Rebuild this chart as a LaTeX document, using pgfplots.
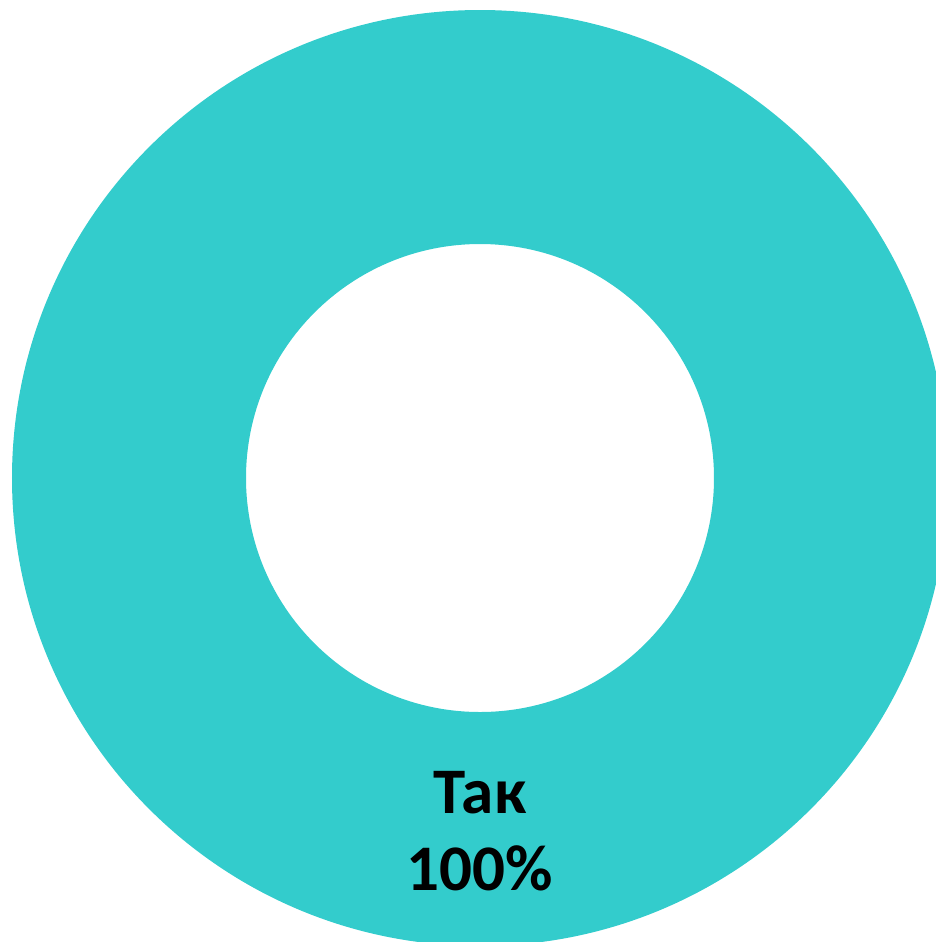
\documentclass[border=0pt]{standalone}
\usepackage{fontspec}
\setmainfont{Carlito}
\usepackage{pgfplots}
\usepackage{pgfplotstable}
\pgfplotsset{compat=1.18}
\definecolor{ringteal}{HTML}{33CCCC}

% one slice: answer, share in %
\pgfplotstableread{
label value
Так 100
}\donutdata

\begin{document}
\begin{tikzpicture}
\pgfplotstablegetelem{0}{label}\of\donutdata
\let\slicelabel\pgfplotsretval
\pgfplotstablegetelem{0}{value}\of\donutdata
\let\slicevalue\pgfplotsretval
\begin{axis}[
  scale only axis,
  width=9.36cm, height=9.42cm,
  xmin=0, xmax=936,
  ymin=0, ymax=942,
  y dir=reverse,
  hide axis,
  clip=true,
]
% ring (single slice covering 100%)
\fill[ringteal, even odd rule]
  (axis cs:480,478) circle[radius=468]
  (axis cs:480,478) circle[radius=234];
\node[font=\fontsize{18.5}{22}\selectfont\bfseries, anchor=base]
  at (axis cs:480,813) {\slicelabel};
\node[font=\fontsize{18.5}{22}\selectfont\bfseries, anchor=base]
  at (axis cs:480,890) {\slicevalue\%};
\end{axis}
% page = axis area only (the ring runs off the right and bottom edges)
\pgfresetboundingbox
\useasboundingbox (current axis.south west) rectangle (current axis.north east);
\end{tikzpicture}
\end{document}
